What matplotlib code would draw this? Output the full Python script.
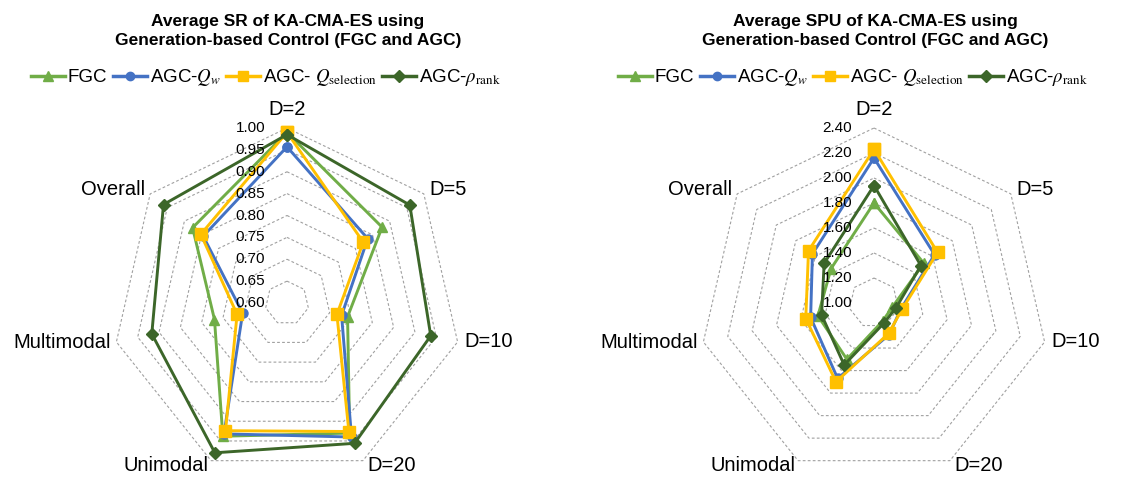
import numpy as np
import matplotlib
matplotlib.use('Agg')
import matplotlib.pyplot as plt
from matplotlib.lines import Line2D

plt.rcParams['font.family'] = 'Liberation Sans'
plt.rcParams['mathtext.fontset'] = 'stix'

# Data

categories = ['D=2', 'D=5', 'D=10', 'D=20', 'Unimodal', 'Multimodal', 'Overall']

sr_fgc = [0.990, 0.878, 0.742, 0.930, 0.938, 0.770, 0.876]
sr_qw = [0.957, 0.836, 0.728, 0.940, 0.932, 0.704, 0.845]
sr_qsel = [0.990, 0.823, 0.717, 0.926, 0.924, 0.717, 0.852]
sr_rank = [0.985, 0.959, 0.937, 0.956, 0.980, 0.917, 0.961]

spu_fgc = [1.80, 1.51, 1.15, 1.16, 1.50, 1.46, 1.44]
spu_qw = [2.16, 1.62, 1.22, 1.28, 1.67, 1.52, 1.63]
spu_qsel = [2.23, 1.65, 1.23, 1.27, 1.70, 1.56, 1.67]
spu_rank = [1.94, 1.48, 1.18, 1.18, 1.55, 1.43, 1.51]

sr_ticks = [0.60, 0.65, 0.70, 0.75, 0.80, 0.85, 0.90, 0.95, 1.00]
spu_ticks = [1.00, 1.20, 1.40, 1.60, 1.80, 2.00, 2.20, 2.40]

series_names = ['FGC', 'AGC-$Q_w$', 'AGC- $Q_{\\mathrm{selection}}$', 'AGC-$\\rho_{\\mathrm{rank}}$']

# Styles
colors = ['#70AD47', '#4472C4', '#FFC000', '#3C6629']
markers = ['^', 'o', 's', 'D']
msizes = [7, 6.5, 8, 6.5]
# label offsets (points) and alignment for each category
label_pos = [(0, 13.5, 'center'), (4.3, 2.9, 'left'), (5, 0, 'left'), (2.9, -3.2, 'left'),
             (-2.2, -3.2, 'right'), (-4.3, -0.7, 'right'), (-3.6, 2.9, 'right')]

theta = np.linspace(0, 2 * np.pi, len(categories), endpoint=False)
theta_c = np.append(theta, theta[0])


def radar(ax, series, ticks):
    ax.set_theta_zero_location('N')
    ax.set_theta_direction(-1)
    ax.set_ylim(ticks[0], ticks[-1])
    ax.grid(False)
    ax.set_xticks([])
    ax.set_yticks([])
    ax.spines['polar'].set_visible(False)
    ax.patch.set_alpha(0)

    # heptagon gridlines
    for t in ticks[1:]:
        ax.plot(theta_c, [t] * len(theta_c), color='#A0A0A0', lw=0.8,
                ls=(0, (2.5, 2)), clip_on=False, zorder=1)

    for vals, c, m, ms in zip(series, colors, markers, msizes):
        v = np.append(vals, vals[0])
        ax.plot(theta_c, v, color=c, lw=2.1, marker=m, ms=ms, mec=c,
                clip_on=False, zorder=3)

    for t in ticks:
        ax.annotate('{:.2f}'.format(t), xy=(0, t), xytext=(-15.8, 0),
                    textcoords='offset points', ha='right', va='center',
                    fontsize=11, zorder=4, annotation_clip=False)

    for name, th, (dx, dy, ha) in zip(categories, theta, label_pos):
        ax.annotate(name, xy=(th, ticks[-1]), xytext=(dx, dy),
                    textcoords='offset points', ha=ha, va='center',
                    fontsize=14.5, annotation_clip=False)


W, H = 1137, 478
fig = plt.figure(figsize=(W / 100, H / 100), dpi=100)

ax1 = fig.add_axes([112 / W, 0, 350 / W, 350 / H], projection='polar')
ax2 = fig.add_axes([699 / W, 0, 350 / W, 350 / H], projection='polar')

radar(ax1, [sr_fgc, sr_qw, sr_qsel, sr_rank], sr_ticks)
radar(ax2, [spu_fgc, spu_qw, spu_qsel, spu_rank], spu_ticks)

titles = ['Average SR of KA-CMA-ES using\nGeneration-based Control (FGC and AGC)',
          'Average SPU of KA-CMA-ES using\nGeneration-based Control (FGC and AGC)']
handles = [Line2D([], [], color=c, lw=2.5, marker=m, ms=ms - 0.5, mec=c)
           for c, m, ms in zip(colors, markers, msizes)]

for cx, title in zip([288, 875], titles):
    fig.text(cx / W, 1 - 31 / H, title, ha='center', va='center',
             fontsize=12.5, fontweight='bold', linespacing=1.3)
    fig.legend(handles, series_names, loc='center', ncol=4,
               bbox_to_anchor=((cx - 22) / W, 1 - 78 / H), frameon=False,
               fontsize=13.5, handlelength=1.8, handletextpad=0.15,
               columnspacing=0.3, borderaxespad=0)

fig.savefig('out.png', dpi=100)
